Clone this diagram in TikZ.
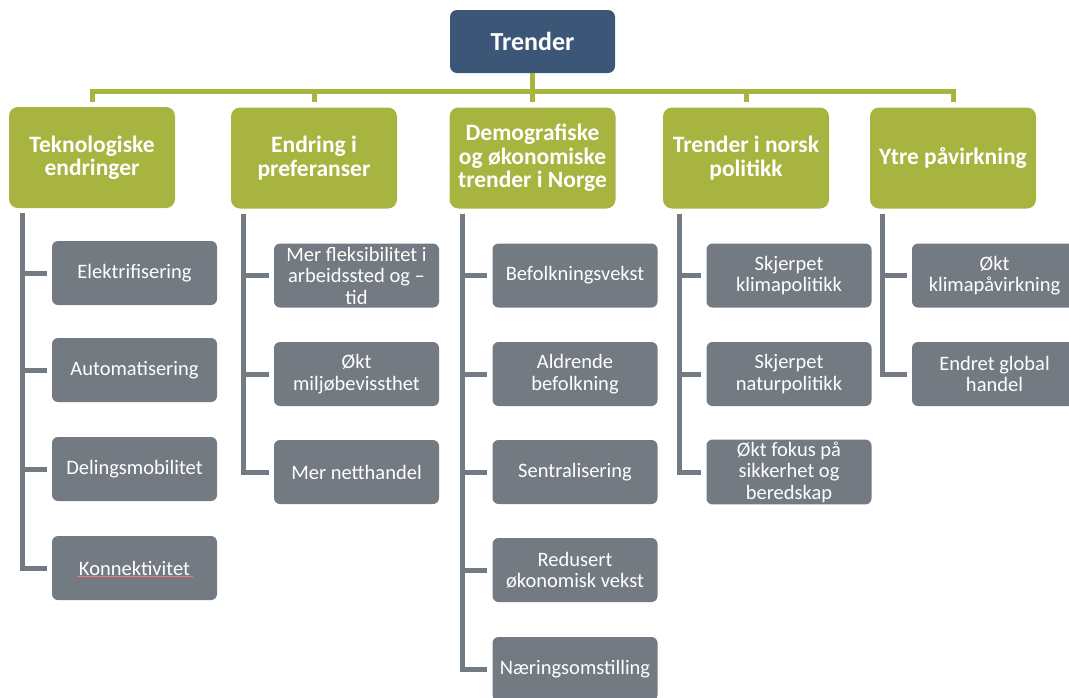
\documentclass[tikz,border=0pt]{standalone}
\usepackage{fontspec}
\setmainfont{Carlito}
\definecolor{trendblue}{HTML}{3B5677}
\definecolor{trendgreen}{HTML}{A8B440}
\definecolor{trendgrey}{HTML}{737A81}
\tikzset{
  topbox/.style={fill=trendblue, rounded corners=7pt, minimum width=165pt, minimum height=63pt, text=white, font=\fontsize{26}{30}\selectfont\bfseries},
  groupbox/.style={fill=trendgreen, rounded corners=9pt, minimum width=166pt, minimum height=101pt, inner sep=2pt, text=white, align=center, font=\fontsize{23.5}{23.5}\selectfont\bfseries},
  itembox/.style={fill=trendgrey, rounded corners=6pt, minimum width=165pt, minimum height=64pt, inner sep=2pt, text=white, align=center, font=\fontsize{20.5}{21.5}\selectfont},
  greenline/.style={draw=trendgreen, line width=5pt, shorten >=5pt},
  greyline/.style={draw=trendgrey, line width=5pt, shorten >=5pt},
}
\begin{document}
\begin{tikzpicture}[x=1pt, y=-1pt]
\useasboundingbox (0,0) rectangle (1069,697);

% top and groups
\node[topbox] (top) at (532.5,41.5) {Trender};
\node[groupbox] (tek)  at (92,157.5)  {Teknologiske\\endringer};
\node[groupbox] (endr) at (314,158)   {Endring i\\preferanser};
\node[groupbox] (demo) at (532.5,158) {Demografiske\\og økonomiske\\trender i Norge};
\node[groupbox] (pol)  at (746,158)   {Trender i norsk\\politikk};
\node[groupbox] (ytre) at (953,158)   {Ytre påvirkning};

\foreach \g in {tek,endr,demo,pol,ytre}
    \draw[greenline] (top.south) -- ++(0,18) -| (\g.north);

% items
\node[itembox] (t1) at (134.5,273) {Elektrifisering};
\node[itembox] (t2) at (134.5,370) {Automatisering};
\node[itembox] (t3) at (134.5,469) {Delingsmobilitet};
\node[itembox] (t4) at (134.5,568) {Konnektivitet};
\draw[red!55, line width=0.7pt] ([xshift=-58pt,yshift=-1.5pt]t4.base) -- ([xshift=58pt,yshift=-1.5pt]t4.base);

\node[itembox] (e1) at (356.5,275.5) {Mer fleksibilitet i\\arbeidssted og –\\tid};
\node[itembox] (e2) at (356.5,374)   {Økt\\miljøbevissthet};
\node[itembox] (e3) at (356.5,472)   {Mer netthandel};

\node[itembox] (d1) at (575,275.5) {Befolkningsvekst};
\node[itembox] (d2) at (575,374)   {Aldrende\\befolkning};
\node[itembox] (d3) at (575,472)   {Sentralisering};
\node[itembox] (d4) at (575,570)   {Redusert\\økonomisk vekst};
\node[itembox] (d5) at (575,669)   {Næringsomstilling};

\node[itembox] (p1) at (789,275.5) {Skjerpet\\klimapolitikk};
\node[itembox] (p2) at (789,374)   {Skjerpet\\naturpolitikk};
\node[itembox] (p3) at (789,472)   {Økt fokus på\\sikkerhet og\\beredskap};

\node[itembox] (y1) at (994.5,275.5) {Økt\\klimapåvirkning};
\node[itembox] (y2) at (994.5,374)   {Endret global\\handel};

% grey branches
\foreach \i in {1,...,4}
    \draw[greyline] ([xshift=14pt,yshift=-5pt]tek.south west) |- (t\i.west);
\foreach \i in {1,...,3}
    \draw[greyline] ([xshift=13pt,yshift=-5pt]endr.south west) |- (e\i.west);
\foreach \i in {1,...,5}
    \draw[greyline] ([xshift=13pt,yshift=-5pt]demo.south west) |- (d\i.west);
\foreach \i in {1,...,3}
    \draw[greyline] ([xshift=17pt,yshift=-5pt]pol.south west) |- (p\i.west);
\foreach \i in {1,2}
    \draw[greyline] ([xshift=13pt,yshift=-5pt]ytre.south west) |- (y\i.west);
\end{tikzpicture}
\end{document}
